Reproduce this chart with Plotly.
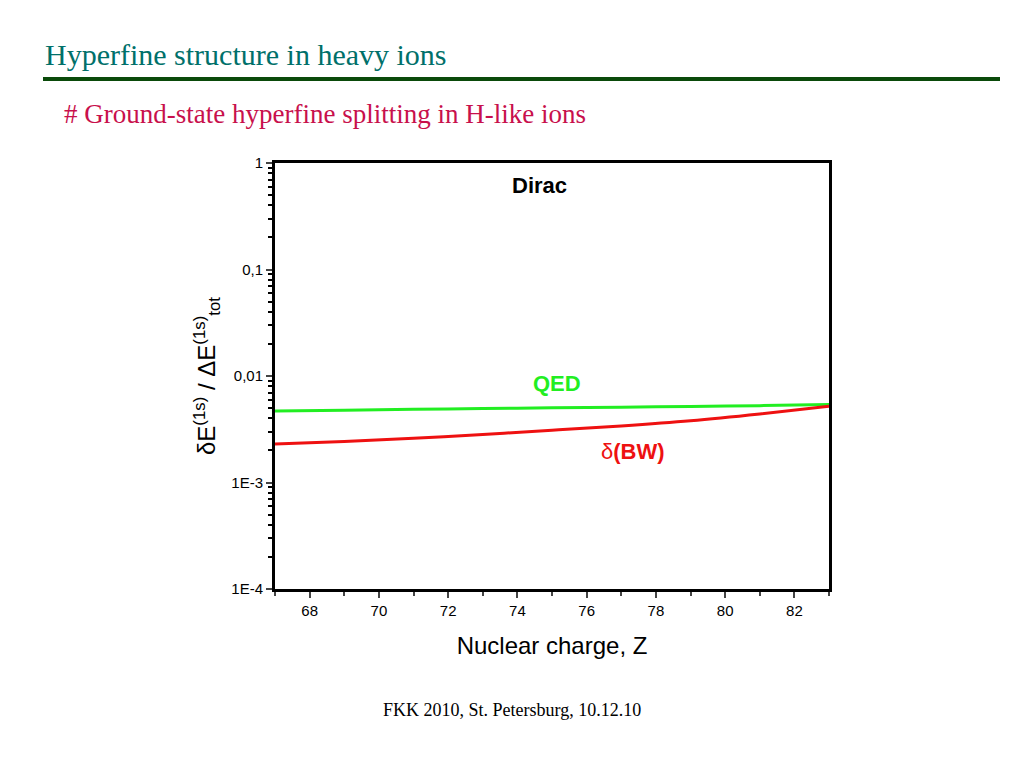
import math
import plotly.graph_objects as go

z = [67, 69, 71, 73, 75, 77, 79, 81, 83]
qed = [0.0047, 0.00478, 0.00487, 0.00495, 0.00503, 0.0051, 0.00518, 0.00527, 0.0054]
bw = [0.0023, 0.00243, 0.0026, 0.00282, 0.0031, 0.0034, 0.0038, 0.0044, 0.0052]

y_ticks = [1, 0.1, 0.01, 0.001, 0.0001]
y_ticktext = ["1", "0,1", "0,01", "1E-3", "1E-4"]
x_ticks = [68, 70, 72, 74, 76, 78, 80, 82]
y_minor = [m * 10.0 ** e for e in range(-4, 0) for m in range(2, 10)]

# page has an 8px body margin, so shift everything back
def X(px):
    return (px - 8) / 1024

def Y(py):
    return 1 - (py - 8) / 768

fig = go.Figure()
fig.add_trace(go.Scatter(x=z, y=qed, mode="lines", line=dict(color="#22ee22", width=3), line_shape="spline"))
fig.add_trace(go.Scatter(x=z, y=bw, mode="lines", line=dict(color="#ee1111", width=3), line_shape="spline"))

axis_font = dict(family="Liberation Sans, Arial", size=15, color="black")
fig.update_layout(
    width=1024, height=768, showlegend=False,
    margin=dict(l=0, r=0, t=0, b=0, autoexpand=False),
    paper_bgcolor="white", plot_bgcolor="white",
    xaxis=dict(domain=[X(275), X(829)], range=[67, 83], tickvals=x_ticks, automargin=False,
               ticks="outside", ticklen=6, tickwidth=2, showline=True, linewidth=3,
               linecolor="black", mirror=True, showgrid=False, zeroline=False,
               minor=dict(dtick=1, ticks="outside", ticklen=4, tickwidth=2),
               tickfont=axis_font,
               title=dict(text="Nuclear charge, Z", font=dict(family="Liberation Sans, Arial", size=24, color="black"), standoff=20)),
    yaxis=dict(domain=[Y(589), Y(163)], type="log", range=[-4, 0], tickvals=y_ticks, automargin=False,
               ticktext=y_ticktext, ticks="outside", ticklen=6, tickwidth=2,
               showline=True, linewidth=3, linecolor="black", mirror=True,
               showgrid=False, zeroline=False, tickfont=axis_font,
               minor=dict(tickvals=y_minor, ticks="outside", ticklen=4, tickwidth=1.5, tickcolor="black")),
)

fig.add_annotation(x=X(207), y=Y(376), xref="paper", yref="paper", textangle=-90,
                   xanchor="center", yanchor="middle",
                   text="δE<sup>(1s)</sup> / ΔE<sup>(1s)</sup><sub>tot</sub>",
                   showarrow=False, font=dict(family="Liberation Sans, Arial", size=24, color="black"))
fig.add_annotation(x=74.65, y=math.log10(0.62), text="<b>Dirac</b>", showarrow=False,
                   font=dict(family="Liberation Sans, Arial", size=22, color="black"))
fig.add_annotation(x=75.15, y=math.log10(0.0085), text="<b>QED</b>", showarrow=False,
                   font=dict(family="Liberation Sans, Arial", size=22, color="#22ee22"))
fig.add_annotation(x=77.35, y=math.log10(0.00195), text="δ<b>(BW)</b>", showarrow=False,
                   font=dict(family="Liberation Sans, Arial", size=22, color="#ee1111"))

# slide decoration
fig.add_annotation(x=X(43), y=Y(55), xref="paper", yref="paper", xanchor="left", yanchor="middle",
                   text="Hyperfine structure in heavy ions", showarrow=False,
                   font=dict(family="Liberation Serif, Times New Roman", size=30, color="#00706a"))
fig.add_shape(type="line", xref="paper", yref="paper", x0=X(43), x1=X(1000),
              y0=Y(79), y1=Y(79), line=dict(color="#0a4a0a", width=4))
fig.add_annotation(x=X(62), y=Y(114), xref="paper", yref="paper", xanchor="left", yanchor="middle",
                   text="# Ground-state hyperfine splitting in H-like ions", showarrow=False,
                   font=dict(family="Liberation Serif, Times New Roman", size=27, color="#c8104c"))
fig.add_annotation(x=X(512), y=Y(710), xref="paper", yref="paper", yanchor="middle",
                   text="FKK 2010, St. Petersburg, 10.12.10", showarrow=False,
                   font=dict(family="Liberation Serif, Times New Roman", size=18, color="black"))

fig.write_html("out.html")
